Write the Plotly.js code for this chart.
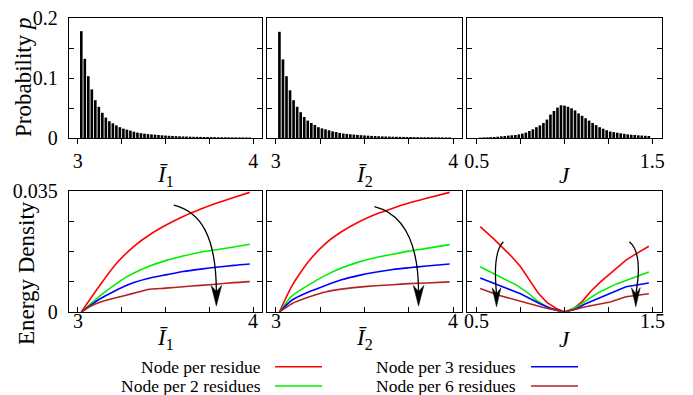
<!DOCTYPE html>
<html>
<head>
<meta charset="utf-8">
<script src="https://cdn.plot.ly/plotly-3.0.1.min.js"></script>
<style>html,body{margin:0;padding:0;background:#fff;}#chart{width:693px;height:395px;}</style>
</head>
<body>
<div id="chart"></div>
<script>
// ---------- DATA ----------
const I1_bins = [3.02,3.04,3.06,3.08,3.10,3.12,3.14,3.16,3.18,3.20,3.22,3.24,3.26,3.28,3.30,3.32,3.34,3.36,3.38,3.40,3.42,3.44,3.46,3.48,3.50,3.52,3.54,3.56,3.58,3.60,3.62,3.64,3.66,3.68,3.70,3.72,3.74,3.76,3.78,3.80,3.82,3.84,3.86,3.88,3.90,3.92,3.94,3.96,3.98];
const I1_prob = [0.178,0.132,0.103,0.081,0.063,0.052,0.042,0.034,0.028,0.0245,0.021,0.018,0.0156,0.014,0.0123,0.0105,0.009,0.008,0.0072,0.0065,0.006,0.0055,0.005,0.0045,0.0041,0.0037,0.0034,0.0031,0.0028,0.0026,0.0024,0.0022,0.002,0.0019,0.0018,0.0017,0.0016,0.0015,0.0014,0.0013,0.0012,0.0012,0.0011,0.0011,0.001,0.001,0.0009,0.0009,0.0008];
const I2_bins = [3.02,3.04,3.06,3.08,3.10,3.12,3.14,3.16,3.18,3.20,3.22,3.24,3.26,3.28,3.30,3.32,3.34,3.36,3.38,3.40,3.42,3.44,3.46,3.48,3.50,3.52,3.54,3.56,3.58,3.60,3.62,3.64,3.66,3.68,3.70,3.72,3.74,3.76,3.78,3.80,3.82,3.84,3.86,3.88,3.90,3.92,3.94,3.96,3.98];
const I2_prob = [0.177,0.131,0.103,0.0795,0.063,0.052,0.043,0.035,0.029,0.025,0.0217,0.018,0.016,0.0145,0.0128,0.011,0.010,0.0085,0.0075,0.0068,0.0062,0.0057,0.0052,0.0047,0.0043,0.0039,0.0035,0.0032,0.0029,0.0027,0.0025,0.0023,0.0021,0.002,0.0019,0.0018,0.0017,0.0016,0.0015,0.0014,0.0013,0.0013,0.0012,0.0012,0.0011,0.0011,0.001,0.001,0.0009];
const J_bins = [0.52,0.54,0.56,0.58,0.60,0.62,0.64,0.66,0.68,0.70,0.72,0.74,0.76,0.78,0.80,0.82,0.84,0.86,0.88,0.90,0.92,0.94,0.96,0.98,1.00,1.02,1.04,1.06,1.08,1.10,1.12,1.14,1.16,1.18,1.20,1.22,1.24,1.26,1.28,1.30,1.32,1.34,1.36,1.38,1.40,1.42,1.44,1.46,1.48];
const J_prob = [0.0006,0.001,0.0011,0.0015,0.0017,0.0022,0.0028,0.0033,0.004,0.0045,0.005,0.006,0.0073,0.009,0.0117,0.0145,0.018,0.021,0.025,0.0307,0.039,0.045,0.0507,0.0545,0.054,0.052,0.0495,0.046,0.041,0.037,0.033,0.029,0.025,0.0215,0.018,0.0155,0.013,0.0108,0.0098,0.0088,0.0078,0.007,0.006,0.0054,0.005,0.0045,0.0041,0.0037,0.0033];

// Energy density vs I1
const E1_red_x   = [3.02,3.131,3.225,3.32,3.414,3.509,3.604,3.698,3.793,3.888,3.98];
const E1_red_y   = [0,0.0081,0.0143,0.0190,0.0225,0.0253,0.0277,0.0297,0.0315,0.0331,0.0346];
const E1_grn_x   = [3.02,3.07,3.13,3.20,3.26,3.32,3.40,3.51,3.60,3.70,3.80,3.89,3.98];
const E1_grn_y   = [0,0.0022,0.0048,0.0075,0.0096,0.0113,0.0131,0.0150,0.0162,0.0173,0.0181,0.0188,0.0196];
const E1_blu_x   = [3.02,3.07,3.13,3.20,3.26,3.32,3.40,3.51,3.60,3.70,3.80,3.89,3.98];
const E1_blu_y   = [0,0.0018,0.0039,0.0058,0.0073,0.0085,0.0097,0.0108,0.0117,0.0124,0.0130,0.0135,0.0139];
const E1_brn_x   = [3.02,3.07,3.13,3.20,3.27,3.34,3.40,3.50,3.60,3.70,3.80,3.89,3.98];
const E1_brn_y   = [0,0.0016,0.0029,0.0039,0.0048,0.0057,0.0065,0.0069,0.0073,0.0077,0.0081,0.0085,0.0088];
// Energy density vs I2
const E2_red_x   = [3.02,3.055,3.09,3.14,3.19,3.28,3.37,3.47,3.56,3.66,3.75,3.85,3.98];
const E2_red_y   = [0,0.0039,0.0075,0.0115,0.0150,0.0198,0.0232,0.0261,0.0282,0.0300,0.0315,0.0329,0.0346];
const E2_grn_x   = [3.02,3.09,3.19,3.28,3.37,3.47,3.56,3.66,3.75,3.85,3.98];
const E2_grn_y   = [0,0.0046,0.0080,0.0106,0.0127,0.0145,0.0157,0.0167,0.0176,0.0184,0.0195];
const E2_blu_x   = [3.02,3.09,3.19,3.28,3.37,3.47,3.56,3.66,3.75,3.85,3.98];
const E2_blu_y   = [0,0.0034,0.0059,0.0077,0.0093,0.0106,0.0115,0.0123,0.0128,0.0133,0.0139];
const E2_brn_x   = [3.02,3.09,3.19,3.28,3.38,3.47,3.56,3.66,3.75,3.85,3.98];
const E2_brn_y   = [0,0.0024,0.0044,0.0058,0.0067,0.0072,0.0076,0.0079,0.0082,0.0084,0.0087];
// Energy density vs J
const E3_red_x   = [0.52,0.60,0.70,0.75,0.80,0.85,0.90,0.95,1.00,1.05,1.10,1.15,1.20,1.25,1.30,1.35,1.40,1.48];
const E3_red_y   = [0.0247,0.0210,0.0160,0.0131,0.0093,0.0055,0.0028,0.0011,0,0.0009,0.0030,0.0060,0.0085,0.0107,0.0128,0.0150,0.0166,0.0190];
const E3_grn_x   = [0.52,0.59,0.65,0.73,0.80,0.84,0.90,0.95,1.00,1.07,1.13,1.20,1.30,1.35,1.48];
const E3_grn_y   = [0.0131,0.0113,0.0098,0.0077,0.0052,0.0034,0.0015,0.0005,0,0.0015,0.0035,0.0058,0.0082,0.0092,0.0116];
const E3_blu_x   = [0.52,0.63,0.75,0.86,0.93,1.00,1.06,1.12,1.26,1.35,1.48];
const E3_blu_y   = [0.0098,0.0077,0.0053,0.0024,0.0009,0,0.0008,0.0024,0.0053,0.0073,0.0084];
const E3_brn_x   = [0.52,0.63,0.75,0.88,1.00,1.12,1.26,1.35,1.48];
const E3_brn_y   = [0.0068,0.0048,0.0031,0.0013,0,0.0015,0.0029,0.0044,0.0053];

const seriesNames = ["Node per residue","Node per 2 residues","Node per 3 residues","Node per 6 residues"];

// tick values / labels
const iTV = [3,3.25,3.5,3.75,4], iTT = ["3","","","","4"];
const jTV = [0.5,0.75,1,1.25,1.5], jTT = ["0.5","","","","1.5"];
const pTV = [0,0.05,0.1,0.15,0.2], pTT = ["0","","0.1","","0.2"];
const eTV = [0,0.00875,0.0175,0.02625,0.035], eTT = ["0","","","","0.035"];

// ---------- STYLE ----------
const W = 693, H = 395;
const FONT = "Liberation Serif";
const COL = {red:"#ff0000", grn:"#00ee00", blu:"#0000ff", brn:"#b22222"};
const px = v => v / W;
const py = v => 1 - v / H;
const colDom = [[69,262],[267,462],[467,662]].map(d => [px(d[0]), px(d[1])]);
const rowDom = [[18,138],[191,312]].map(d => [py(d[1]), py(d[0])]);

const traces = [];
function bars(x, y, xa, ya) {
  traces.push({type:"bar", x:x, y:y, xaxis:xa, yaxis:ya, marker:{color:"#000", line:{width:0}}, showlegend:false, hoverinfo:"skip"});
}
bars(I1_bins, I1_prob, "x", "y");
bars(I2_bins, I2_prob, "x2", "y2");
bars(J_bins, J_prob, "x3", "y3");

function line(x, y, c, xa, ya, shape) {
  traces.push({type:"scatter", mode:"lines", x:x, y:y, xaxis:xa, yaxis:ya,
    line:{color:c, width:1.6, shape:shape, smoothing:0.7}, showlegend:false, hoverinfo:"skip"});
}
line(E1_red_x, E1_red_y, COL.red, "x4", "y4", "spline");
line(E1_grn_x, E1_grn_y, COL.grn, "x4", "y4", "spline");
line(E1_blu_x, E1_blu_y, COL.blu, "x4", "y4", "spline");
line(E1_brn_x, E1_brn_y, COL.brn, "x4", "y4", "spline");
line(E2_red_x, E2_red_y, COL.red, "x5", "y5", "spline");
line(E2_grn_x, E2_grn_y, COL.grn, "x5", "y5", "spline");
line(E2_blu_x, E2_blu_y, COL.blu, "x5", "y5", "spline");
line(E2_brn_x, E2_brn_y, COL.brn, "x5", "y5", "spline");
line(E3_red_x, E3_red_y, COL.red, "x6", "y6", "linear");
line(E3_grn_x, E3_grn_y, COL.grn, "x6", "y6", "linear");
line(E3_blu_x, E3_blu_y, COL.blu, "x6", "y6", "linear");
line(E3_brn_x, E3_brn_y, COL.brn, "x6", "y6", "linear");

const tickFont = {family:FONT, size:20, color:"#000"};
function xax(col, row, range, tv, tt, anchor) {
  return {domain:colDom[col], range:range, anchor:anchor, showline:true, mirror:true, linecolor:"#000", linewidth:1.2,
    ticks: row === 0 ? "outside" : "inside", ticklen:5, tickwidth:1, tickcolor:"#000",
    tickvals:tv, ticktext:tt, tickfont:tickFont, showticklabels: row === 0,
    showgrid:false, zeroline:false, fixedrange:true, automargin:false};
}
function yax(col, row, range, tv, tt, anchor) {
  return {domain:rowDom[row], range:range, anchor:anchor, showline:true, mirror:"ticks", linecolor:"#000", linewidth:1.2,
    ticks:"inside", ticklen:5, tickwidth:1, tickcolor:"#000", tickvals:tv, ticktext:tt, tickfont:tickFont,
    showticklabels: col === 0, ticklabelstandoff:6, showgrid:false, zeroline:false, fixedrange:true, automargin:false};
}
const iR = [2.95,4.05], jR = [0.445,1.555];

// arrows
const shapes = [];
function arrow(xa, ya, path, tip, hl, hn, hw) {
  shapes.push({type:"path", xref:xa, yref:ya, path:path, line:{color:"#000", width:1.3}});
  const [tx, ty] = tip;
  shapes.push({type:"path", xref:xa, yref:ya,
    path:`M ${tx},${ty} L ${tx-hw},${ty+hl} L ${tx},${ty+hn} L ${tx+hw},${ty+hl} Z`,
    fillcolor:"#000", line:{color:"#000", width:0.5}});
}
arrow("x4","y4","M 3.547,0.0309 C 3.70,0.029 3.79,0.022 3.79,0.0055",[3.79,0.0017],0.0060,0.0042,0.03);
arrow("x5","y5","M 3.556,0.0305 C 3.71,0.0285 3.805,0.021 3.805,0.0055",[3.805,0.0017],0.0060,0.0042,0.03);
arrow("x6","y6","M 0.652,0.0203 C 0.605,0.018 0.600,0.012 0.613,0.0052",[0.613,0.0015],0.0055,0.0038,0.025);
arrow("x6","y6","M 1.369,0.0203 C 1.425,0.018 1.430,0.012 1.406,0.0052",[1.406,0.0015],0.0055,0.0038,0.025);

const annotations = [];
// bottom-row x tick labels (sit closer to the axis than Plotly's default)
[["x4",iTV,iTT],["x5",iTV,iTT],["x6",jTV,jTT]].forEach(([xa, tv, tt]) => {
  tv.forEach((v, k) => { if (tt[k]) annotations.push({xref:xa, yref:"paper", x:v, y:py(321),
    xanchor:"center", yanchor:"middle", text:tt[k], showarrow:false, font:tickFont}); });
});

// legend (text left, line right)
const legFont = {family:FONT, size:17.5, color:"#000"};
const legItems = [
  {name:seriesNames[0], c:COL.red, tx:263, lx:[275,322], y:366.7},
  {name:seriesNames[1], c:COL.grn, tx:263, lx:[275,322], y:386},
  {name:seriesNames[2], c:COL.blu, tx:518, lx:[531,578], y:366.7},
  {name:seriesNames[3], c:COL.brn, tx:518, lx:[531,578], y:386}
];
legItems.forEach(it => {
  annotations.push({xref:"paper", yref:"paper", x:px(it.tx), y:py(it.y), xanchor:"right", yanchor:"middle",
    text:it.name, showarrow:false, font:legFont});
  shapes.push({type:"line", xref:"paper", yref:"paper", x0:px(it.lx[0]), x1:px(it.lx[1]), y0:py(it.y), y1:py(it.y),
    line:{color:it.c, width:1.6}});
});

// axis titles
const titleFont = {family:FONT, size:23, color:"#000"};
const xt = [["<i>Ī</i><sub>1</sub>",165.5],["<i>Ī</i><sub>2</sub>",364.5],["<i>J</i>",564.5]];
[176, 339].forEach(yy => xt.forEach(t => annotations.push({xref:"paper", yref:"paper", x:px(t[1]), y:py(yy),
  xanchor:"center", yanchor:"middle", text:t[0], showarrow:false, font:titleFont})));
annotations.push({xref:"paper", yref:"paper", x:px(24), y:py(78), xanchor:"center", yanchor:"middle",
  text:"Probability <i>p</i>", textangle:-90, showarrow:false, font:{family:FONT, size:23, color:"#000"}});
annotations.push({xref:"paper", yref:"paper", x:px(26), y:py(273), xanchor:"center", yanchor:"middle",
  text:"Energy Density", textangle:-90, showarrow:false, font:{family:FONT, size:23, color:"#000"}});

const layout = {
  width:W, height:H, margin:{l:0, r:0, t:0, b:0}, paper_bgcolor:"#fff", plot_bgcolor:"#fff",
  font:{family:FONT, color:"#000"}, bargap:0.25, showlegend:false,
  xaxis: xax(0,0,iR,iTV,iTT,"y"),  yaxis: yax(0,0,[0,0.2],pTV,pTT,"x"),
  xaxis2:xax(1,0,iR,iTV,iTT,"y2"), yaxis2:yax(1,0,[0,0.2],pTV,pTT,"x2"),
  xaxis3:xax(2,0,jR,jTV,jTT,"y3"), yaxis3:yax(2,0,[0,0.2],pTV,pTT,"x3"),
  xaxis4:xax(0,1,iR,iTV,iTT,"y4"), yaxis4:yax(0,1,[0,0.035],eTV,eTT,"x4"),
  xaxis5:xax(1,1,iR,iTV,iTT,"y5"), yaxis5:yax(1,1,[0,0.035],eTV,eTT,"x5"),
  xaxis6:xax(2,1,jR,jTV,jTT,"y6"), yaxis6:yax(2,1,[0,0.035],eTV,eTT,"x6"),
  shapes:shapes, annotations:annotations
};
Plotly.newPlot("chart", traces, layout, {staticPlot:true, displayModeBar:false});
</script>
</body>
</html>
